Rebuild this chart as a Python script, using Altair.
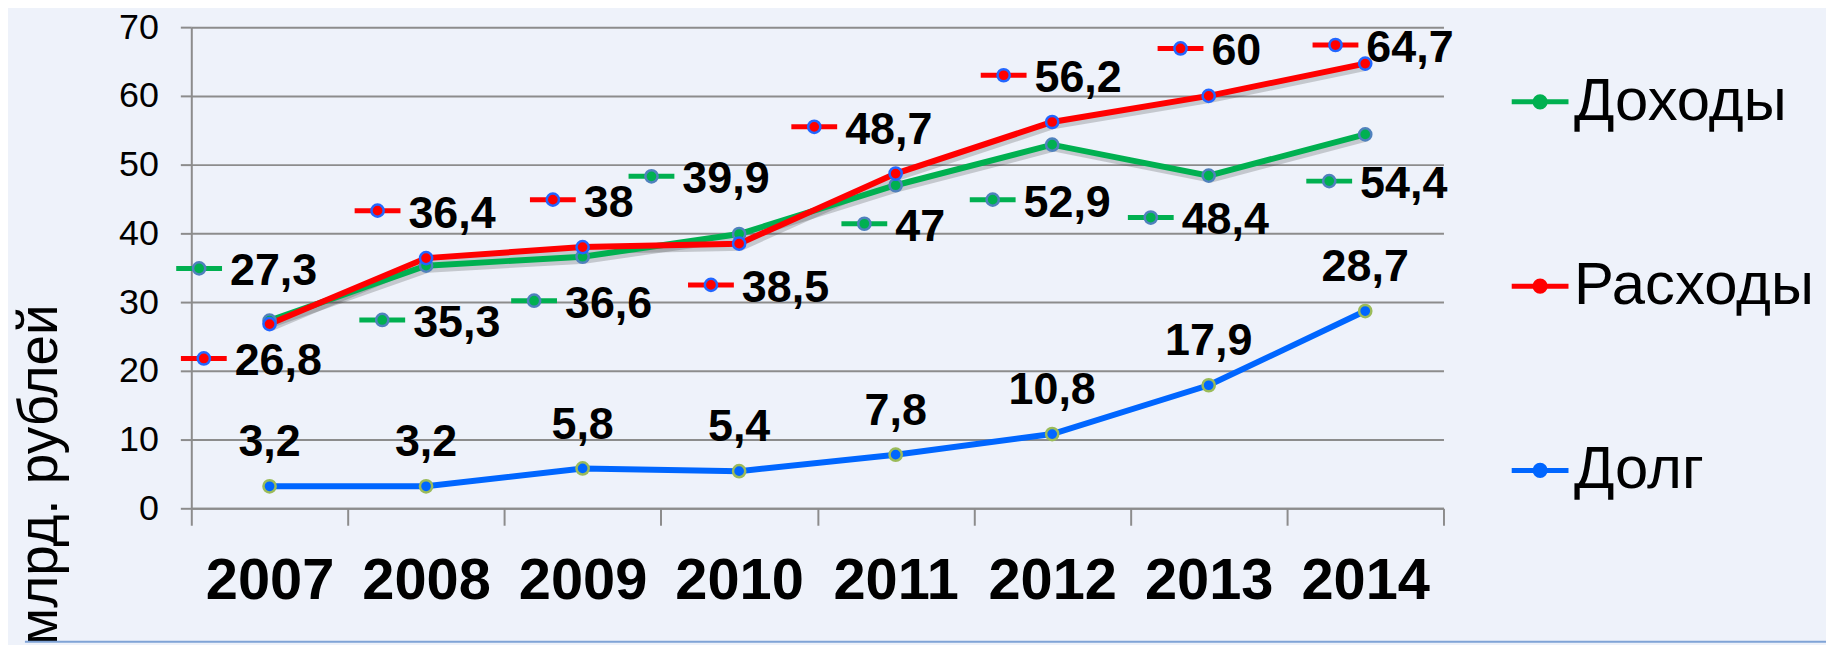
import altair as alt
import pandas as pd

F = "Liberation Sans"

years = [2007, 2008, 2009, 2010, 2011, 2012, 2013, 2014]
income = [27.3, 35.3, 36.6, 39.9, 47, 52.9, 48.4, 54.4]
expense = [26.8, 36.4, 38, 38.5, 48.7, 56.2, 60, 64.7]
debt = [3.2, 3.2, 5.8, 5.4, 7.8, 10.8, 17.9, 28.7]

# where the (manually moved) value labels sit, in chart units (year position, value)
income_label_year = [2006.55, 2007.72, 2008.69, 2009.44, 2010.80, 2011.62, 2012.63, 2013.77]
income_label_value = [34.9, 27.4, 30.2, 48.3, 41.4, 44.9, 42.3, 47.6]
expense_label_year = [2006.58, 2007.69, 2008.81, 2009.82, 2010.48, 2011.69, 2012.82, 2013.81]
expense_label_value = [21.8, 43.3, 44.9, 32.5, 55.5, 63.0, 66.9, 67.4]

series = ["Доходы", "Расходы", "Долг"]
line_colors = ["#00B050", "#FF0000", "#0066FF"]
border_colors = ["#4F81BD", "#2266FF", "#9BBB59"]
y_ticks = [0, 10, 20, 30, 40, 50, 60, 70]


def fmt(v):
    return ("%g" % v).replace(".", ",")


rows = []
for name, vals in zip(series, [income, expense, debt]):
    for yr, v in zip(years, vals):
        rows.append({"year": str(yr), "series": name, "value": v, "label": fmt(v)})
df = pd.DataFrame(rows)

lab_rows = []
for name, lx, ly, vals in [
    (series[0], income_label_year, income_label_value, income),
    (series[1], expense_label_year, expense_label_value, expense),
]:
    for a, b, v in zip(lx, ly, vals):
        lab_rows.append({"series": name, "lx": a, "ly": b, "label": fmt(v)})
lab = pd.DataFrame(lab_rows)

GRAY = "#8C8C8C"
line_scale = alt.Scale(domain=series, range=line_colors)
border_scale = alt.Scale(domain=series, range=border_colors)
y_scale = alt.Scale(domain=[0, 70], nice=False, zero=True)
x_scale = alt.Scale(type="band", paddingInner=0, paddingOuter=0)

x_axis = alt.Axis(
    title=None, labelAngle=0, labelFontSize=58, labelFontWeight="bold", labelFont=F,
    labelColor="black", labelPadding=28, tickBand="extent", tickSize=17,
    tickColor=GRAY, tickWidth=2, domainColor=GRAY, domainWidth=2, grid=False,
)
y_axis = alt.Axis(
    title="млрд. рублей", values=y_ticks, labelFontSize=36, labelFont=F,
    labelColor="black", labelPadding=22, tickSize=11, tickColor=GRAY, tickWidth=2,
    gridColor=GRAY, gridWidth=2, domainColor=GRAY, domainWidth=2,
    titleFontSize=55, titleFont=F, titleFontWeight="normal", titleColor="black",
    titleAngle=270, titleX=-135, titleY=449, titleAlign="center",
    titleBaseline="alphabetic",
)

X = alt.X("year:O", scale=x_scale, bandPosition=0.5, axis=x_axis)
Y = alt.Y("value:Q", scale=y_scale, axis=y_axis)

legend = alt.Legend(
    title=None, orient="none", legendX=1323, legendY=44, direction="vertical",
    symbolType="M-1,0H1M0.18,0A0.18,0.18,0,1,1,-0.18,0A0.18,0.18,0,1,1,0.18,0Z",
    symbolSize=3249, symbolStrokeWidth=5,
    symbolFillColor={"expr": "scale('color', datum.value)"},
    labelFontSize=60, labelFont=F, labelColor="black", labelOffset=3,
    rowPadding=124, padding=0, labelLimit=500,
)

base = alt.Chart(df)

shadow = base.transform_filter(alt.datum.series != "Долг").mark_line(
    strokeWidth=6, color="#303030", opacity=0.22, xOffset=2, yOffset=4
).encode(x=X, y=Y, detail="series:N")

lines = base.mark_line(strokeWidth=6).encode(
    x=X, y=Y, color=alt.Color("series:N", scale=line_scale, legend=legend)
)

points = base.mark_point(shape="circle", filled=True, size=150, strokeWidth=2.5, opacity=1).encode(
    x=X, y=Y,
    fill=alt.Fill("series:N", scale=line_scale, legend=None),
    stroke=alt.Stroke("series:N", scale=border_scale, legend=None),
)

debt_text = base.transform_filter(alt.datum.series == "Долг").mark_text(
    fontSize=45, fontWeight="bold", font=F, color="black", baseline="middle", dy=-44
).encode(x=X, y=Y, text="label:N")

main = alt.layer(shadow, lines, points, debt_text)

LX = alt.X("lx:Q", scale=alt.Scale(domain=[2006.5, 2014.5], nice=False, zero=False), axis=None)
LY = alt.Y("ly:Q", scale=y_scale, axis=y_axis)
lbase = alt.Chart(lab)

key_line = lbase.mark_point(shape="M-1,0H1", filled=False, size=2116, strokeWidth=5, opacity=1).encode(
    x=LX, y=LY, color=alt.Color("series:N", scale=line_scale, legend=legend)
)
key_dot = lbase.mark_point(shape="circle", filled=True, size=150, strokeWidth=2.5, opacity=1).encode(
    x=LX, y=LY,
    fill=alt.Fill("series:N", scale=line_scale, legend=None),
    stroke=alt.Stroke("series:N", scale=border_scale, legend=None),
)
key_text = lbase.mark_text(
    align="left", baseline="middle", dx=31, dy=3, fontSize=45, fontWeight="bold",
    font=F, color="black"
).encode(x=LX, y=LY, text="label:N")

labels = alt.layer(key_line, key_dot, key_text)

# thin decorative line along the bottom of the slide
deco = alt.Chart(pd.DataFrame({"k": [0]})).mark_rule(
    color="#7FA3D6", strokeWidth=2
).encode(x=alt.value(-167), x2=alt.value(1642), y=alt.value(617))

chart = alt.layer(main, labels, deco).resolve_scale(x="independent").properties(
    width=1257, height=483,
    autosize=alt.AutoSizeParams(type="none"),
    padding={"left": 184, "top": 18, "right": 384, "bottom": 136},
    background="#EEF2FA",
).configure_view(strokeWidth=0)

chart.save("out.html", embed_options={"renderer": "svg", "actions": False})
